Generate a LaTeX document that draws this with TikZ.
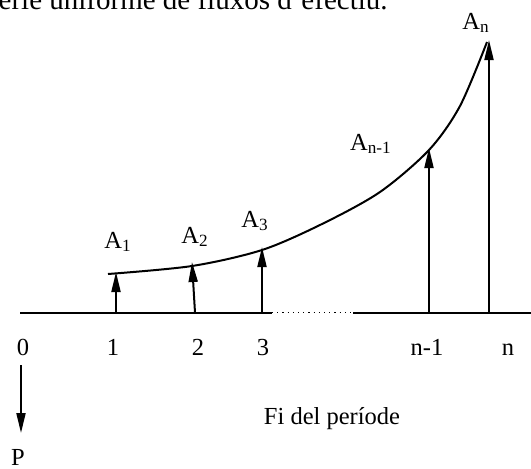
\documentclass[tikz,border=0pt]{standalone}
\usepackage{fontspec}
\setmainfont{Liberation Serif}
\usetikzlibrary{arrows.meta, positioning}
\tikzset{
  timeLine/.style={
    line width=1pt
  },
  gapLine/.style={
    dotted,
    line width=0.6pt
  },
  flowArrow/.style={
    -{Triangle[length=10pt, width=4.5pt]},
    line width=1pt
  },
  growthCurve/.style={
    line width=1pt
  },
  periodLabel/.style={
    anchor=base,
    inner sep=0pt,
    font=\fontsize{12.25}{14}\selectfont
  },
  bodyText/.style={
    anchor=base east,
    inner sep=0pt,
    font=\fontsize{14.5}{17}\selectfont
  }
}

\begin{document}
\begin{tikzpicture}[x=0.5pt, y=-0.5pt]
  \useasboundingbox (0,0) rectangle (531,468);
  \clip (0,0) rectangle (531,468);

  % time line
  \coordinate (o) at (20,312.7);
  \coordinate (gapL) at (272,312.7);
  \coordinate (gapR) at (353,312.7);
  \coordinate (end) at (531,312.7);
  \draw[timeLine] (o) -- (gapL);
  \draw[gapLine] (gapL) -- (gapR);
  \draw[timeLine] (gapR) -- (end);

  % cash flows
  \coordinate (b1) at (116,312.7);  \coordinate (t1) at (116,272);
  \coordinate (b2) at (195,312.7);  \coordinate (t2) at (192,262);
  \coordinate (b3) at (262,312.7);  \coordinate (t3) at (262,247);
  \coordinate (bn1) at (429,312.7); \coordinate (tn1) at (429,148);
  \coordinate (bn) at (489,312.7);  \coordinate (tn) at (489,40);
  \draw[flowArrow] (b1) -- (t1);
  \draw[flowArrow] (b2) -- (t2);
  \draw[flowArrow] (b3) -- (t3);
  \draw[flowArrow] (bn1) -- (tn1);
  \draw[flowArrow] (bn) -- (tn);

  \draw[growthCurve] plot[smooth, tension=0.5] coordinates
    {(108,274) (192,266) (262,250) (322,224) (380,192) (429,150) (460,106) (487,42)};

  \node[periodLabel] (a1) at (118,248) {A\textsubscript{1}};
  \node[periodLabel] (a2) at (195,243) {A\textsubscript{2}};
  \node[periodLabel] (a3) at (255,227) {A\textsubscript{3}};
  \node[periodLabel] (an1) at (371,150) {A\textsubscript{n-1}};
  \node[periodLabel] (an) at (476,29) {A\textsubscript{n}};

  \node[periodLabel] (l0) at (23,355) {0};
  \node[periodLabel] (l1) at (113,355) {1};
  \node[periodLabel] (l2) at (198,355) {2};
  \node[periodLabel] (l3) at (263,355) {3};
  \node[periodLabel] (ln1) at (427,355) {n-1};
  \node[periodLabel] (ln) at (508,355) {n};

  % payment at origin
  \coordinate (pTop) at (21,365);
  \coordinate (pBot) at (21,433);
  \draw[flowArrow] (pTop) -- (pBot);
  \node[periodLabel] (p) at (18,465) {P};

  \node[periodLabel] (fi) at (332,424) {Fi del període};
  \node[bodyText] (caption) at (388,9) {sèrie uniforme de fluxos d'efectiu.};
\end{tikzpicture}
\end{document}
